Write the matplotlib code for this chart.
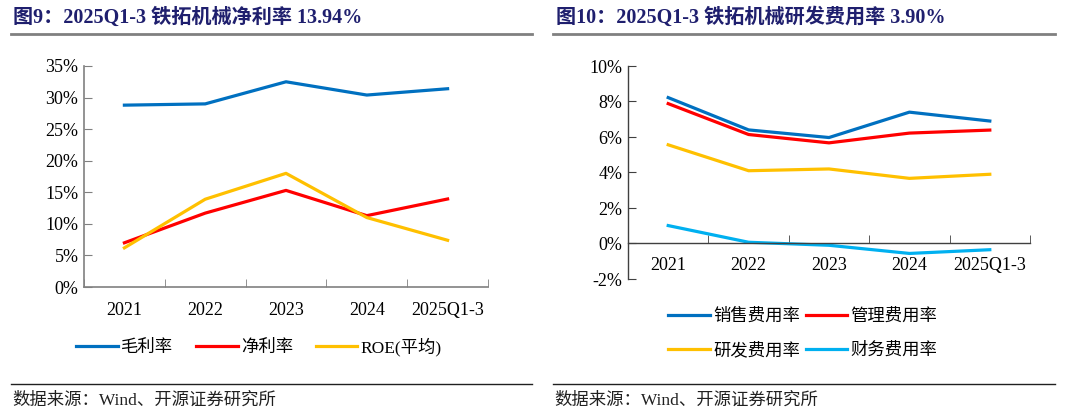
import numpy as np
import matplotlib
matplotlib.use("Agg")
from matplotlib import pyplot as plt
from matplotlib.lines import Line2D
from matplotlib.ticker import FuncFormatter, MultipleLocator

plt.rcParams['font.family'] = ['Liberation Serif', 'Noto Sans CJK SC']

# 数据
years = ["2021", "2022", "2023", "2024", "2025Q1-3"]

gross_margin = [28.8, 29.0, 32.5, 30.4, 31.4]
net_margin = [7.0, 11.7, 15.3, 11.3, 13.94]
roe_avg = [6.2, 13.9, 18.0, 11.0, 7.4]

sales_rate = [8.22, 6.40, 5.97, 7.40, 6.90]
admin_rate = [7.88, 6.14, 5.67, 6.22, 6.39]
rd_rate = [5.56, 4.10, 4.20, 3.67, 3.90]
fin_rate = [1.01, 0.07, -0.10, -0.56, -0.35]

BLUE = "#0070C0"
RED = "#FF0000"
YELLOW = "#FFC000"
LBLUE = "#00B0F0"
NAVY = "#1F1F6E"

W, H = 1080, 415
fig = plt.figure(figsize=(W / 100, H / 100), dpi=100)


def fx(px):
    return px / W


def fy(py):
    return 1 - py / H


def pct(v, pos):
    return "%d%%" % v


x = np.arange(len(years))

# ---------------- 左图 ----------------
ax1 = fig.add_axes([fx(84), fy(287), fx(488 - 84), fy(66) - fy(287)])
ax1.plot(x, gross_margin, color=BLUE, lw=2.3, label="毛利率")
ax1.plot(x, net_margin, color=RED, lw=2.3, label="净利率")
ax1.plot(x, roe_avg, color=YELLOW, lw=2.3, label="ROE(平均)")
ax1.set_xlim(-0.5, 4.5)
ax1.set_ylim(0, 35)
ax1.yaxis.set_major_locator(MultipleLocator(5))
ax1.yaxis.set_major_formatter(FuncFormatter(pct))
ax1.set_xticks(x)
ax1.set_xticklabels(years)
ax1.set_xticks(np.arange(-0.5, 5, 1), minor=True)
ax1.tick_params(axis='x', which='major', length=0, pad=11, labelsize=13)
ax1.tick_params(axis='x', which='minor', length=6, direction='in', color="#808080")
ax1.tick_params(axis='y', length=6, direction='in', color="#808080", labelsize=13, pad=4)
for s in ['top', 'right']:
    ax1.spines[s].set_visible(False)
for s in ['left', 'bottom']:
    ax1.spines[s].set_color("#808080")
    ax1.spines[s].set_linewidth(1.2)
ax1.legend(loc='center', bbox_to_anchor=(fx(259), fy(347)), bbox_transform=fig.transFigure,
           ncol=3, frameon=False, fontsize=12.5, handlelength=2.4, handletextpad=0.2,
           columnspacing=1.3)

# ---------------- 右图 ----------------
ax2 = fig.add_axes([fx(628), fy(279), fx(1030 - 628), fy(66) - fy(279)])
l_sales, = ax2.plot(x, sales_rate, color=BLUE, lw=2.3, label="销售费用率")
l_admin, = ax2.plot(x, admin_rate, color=RED, lw=2.3, label="管理费用率")
l_rd, = ax2.plot(x, rd_rate, color=YELLOW, lw=2.3, label="研发费用率")
l_fin, = ax2.plot(x, fin_rate, color=LBLUE, lw=2.3, label="财务费用率")
ax2.set_xlim(-0.5, 4.5)
ax2.set_ylim(-2, 10)
ax2.yaxis.set_major_locator(MultipleLocator(2))
ax2.yaxis.set_major_formatter(FuncFormatter(pct))
ax2.set_xticks(x)
ax2.set_xticklabels(years)
ax2.set_xticks(np.arange(-0.5, 5, 1), minor=True)
ax2.spines['bottom'].set_position(('data', 0))
ax2.tick_params(axis='x', which='major', length=0, pad=10, labelsize=13)
ax2.tick_params(axis='x', which='minor', length=6, direction='in', color="#404040")
ax2.tick_params(axis='y', length=6, direction='in', color="#404040", labelsize=13, pad=4)
for s in ['top', 'right']:
    ax2.spines[s].set_visible(False)
for s in ['left', 'bottom']:
    ax2.spines[s].set_color("#404040")
    ax2.spines[s].set_linewidth(1.0)
# 图例按行排列：销售、管理 / 研发、财务
ax2.legend([l_sales, l_rd, l_admin, l_fin],
           ["销售费用率", "研发费用率", "管理费用率", "财务费用率"],
           loc='center', bbox_to_anchor=(fx(803), fy(334)), bbox_transform=fig.transFigure,
           ncol=2, frameon=False, fontsize=12.5, handlelength=2.4, handletextpad=0.2,
           columnspacing=0.3, labelspacing=1.0)

# ---------------- 标题与来源 ----------------
fig.text(fx(13), fy(18), "图9：2025Q1-3 铁拓机械净利率 13.94%", fontsize=14.5,
         fontweight='bold', color=NAVY, va='center', ha='left')
fig.text(fx(556), fy(18), "图10：2025Q1-3 铁拓机械研发费用率 3.90%", fontsize=14.5,
         fontweight='bold', color=NAVY, va='center', ha='left')

fig.add_artist(Line2D([fx(11), fx(532)], [fy(34), fy(34)], color="#808080", lw=2))
fig.add_artist(Line2D([fx(553), fx(1055)], [fy(34), fy(34)], color="#808080", lw=2))
fig.add_artist(Line2D([fx(11), fx(532)], [fy(384), fy(384)], color="#202020", lw=1))
fig.add_artist(Line2D([fx(553), fx(1055)], [fy(384), fy(384)], color="#202020", lw=1))

fig.text(fx(12), fy(401), "数据来源：Wind、开源证券研究所", fontsize=12.5, color="#202020",
         va='center', ha='left')
fig.text(fx(554), fy(401), "数据来源：Wind、开源证券研究所", fontsize=12.5, color="#202020",
         va='center', ha='left')

fig.savefig("out.png", dpi=100)
